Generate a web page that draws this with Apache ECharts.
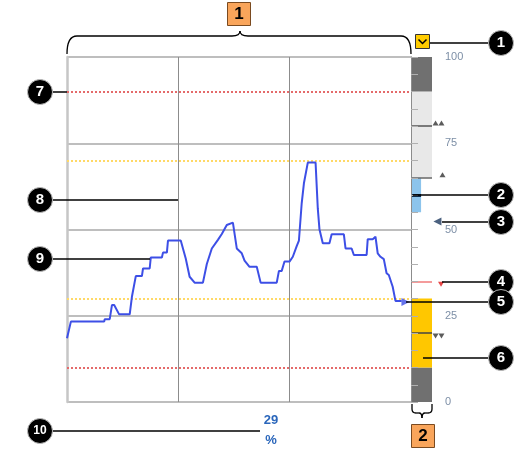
<!DOCTYPE html>
<html><head><meta charset="utf-8">
<script src="https://cdn.jsdelivr.net/npm/echarts/dist/echarts.min.js"></script>
<style>html,body{margin:0;padding:0;background:#fff}#c{width:516px;height:451px}</style>
</head><body><div id="c"></div>
<script>
// ---- data ----
const times = [0,0.7,6.7,6.8,7.7,8.1,8.5,9.4,11.3,11.7,12.4,13.5,13.7,14.9,15.1,17.1,17.3,18.0,18.2,20.5,21.4,22.1,23.0,24.5,25.2,26.1,27.2,27.9,28.8,29.9,30.6,31.5,32.0,32.9,34.2,34.9,37.8,38.2,38.7,39.2,40.1,40.7,41.4,41.8,42.3,42.7,43.0,43.4,44.8,45.2,45.5,46.1,47.3,47.7,49.9,50.2,51.3,51.7,54.0,54.2,55.1,55.6,56.0,56.5,57.1,57.6,58.0,58.7,59.2,60.3];
const values = [18.5,23.3,23.3,24,24,28.1,28.1,25.4,25.4,30.5,36.5,36.5,38.7,38.7,41.9,41.9,43.3,43.3,46.8,46.8,41.6,36.3,34.6,34.6,40,44.5,47,48.7,51.3,52,44.5,43.1,41,39.2,39.2,34.6,34.6,38,38,40.7,40.7,42.1,45.2,46.8,57.6,63.4,63.4,69.4,69.4,56.1,50.1,46,46,48.6,48.6,44.5,44.5,42.6,42.6,47.2,47.2,47.9,43.1,42.1,41.4,37.3,36.8,33.4,29.3,29.3];
const yTickLabels = [0, 25, 50, 75, 100];
const alarmLines = [90, 10];
const warnLines = [70, 30];
const gridTimes = [20, 40];
const bandLowLow = [0, 10];
const bandLow = [10, 30];
const bandHigh = [65, 90];
const bandHighHigh = [90, 100];
const setpointRange = [55, 65];
const setpoint = 60;
const limitHH = 80, limitH = 65, limitL = 35, limitLL = 20;
const targetValue = 52.3;
const currentValue = 29;
const currentText = ['29', '%'];

// ---- chart ----
const chart = echarts.init(document.getElementById('c'), null, {renderer: 'canvas'});
const lineData = times.map((t, i) => [t, values[i]]);

function callout(num, cx, cy, x1) {
  return [
    {type: 'line', z: 100, shape: {x1: x1, y1: cy, x2: cx - 11, y2: cy}, style: {stroke: '#000', lineWidth: 1.5}},
    {type: 'circle', z: 101, shape: {cx: cx, cy: cy, r: 12.5}, style: {fill: '#000', stroke: '#bbb', lineWidth: 1}},
    {type: 'text', z: 102, x: cx, y: cy, style: {text: String(num), fill: '#fff', font: 'bold ' + (num >= 10 ? 12 : 15) + 'px "Liberation Sans", Arial', align: 'center', verticalAlign: 'middle'}}
  ];
}
const bStyle = {fill: null, stroke: '#000', lineWidth: 1.3};
function seg(x1, y1, x2, y2) { return {type: 'line', z: 100, shape: {x1, y1, x2, y2}, style: bStyle}; }
function curve(x1, y1, cx, cy, x2, y2) { return {type: 'bezierCurve', z: 100, shape: {x1, y1, x2, y2, cpx1: cx, cpy1: cy}, style: bStyle}; }

const graphics = [].concat(
  callout(1, 501, 43, 429),
  callout(2, 501, 195, 413),
  callout(3, 501, 222, 442),
  callout(4, 501, 282, 442),
  callout(5, 501, 302, 406),
  callout(6, 501, 358, 423),
  callout(7, 40, 92, 67),
  callout(8, 40, 200, 178),
  callout(9, 40, 259, 150),
  callout(10, 40, 431, 260),
  [
    curve(67, 54, 67, 36, 77, 36), seg(77, 36, 232, 36), curve(232, 36, 240, 36, 240, 31),
    curve(240, 31, 240, 36, 248, 36), seg(248, 36, 401, 36), curve(401, 36, 411, 36, 411, 54),
    seg(412, 404, 412, 409), curve(412, 409, 412, 413, 416, 413), seg(416, 413, 419, 413),
    curve(419, 413, 422, 413, 422, 418), curve(422, 418, 422, 413, 425, 413), seg(425, 413, 428, 413),
    curve(428, 413, 432, 413, 432, 409), seg(432, 409, 432, 404),
    {type: 'rect', z: 100, shape: {x: 227.5, y: 2.5, width: 23, height: 23}, style: {fill: '#f9a55b', stroke: '#7a4a20', lineWidth: 1}},
    {type: 'text', z: 101, x: 239, y: 14.5, style: {text: '1', fill: '#000', font: 'bold 17px "Liberation Sans", Arial', align: 'center', verticalAlign: 'middle'}},
    {type: 'rect', z: 100, shape: {x: 411.5, y: 424.5, width: 23, height: 23}, style: {fill: '#f9a55b', stroke: '#7a4a20', lineWidth: 1}},
    {type: 'text', z: 101, x: 423, y: 436.5, style: {text: '2', fill: '#000', font: 'bold 17px "Liberation Sans", Arial', align: 'center', verticalAlign: 'middle'}},
    {type: 'rect', z: 100, shape: {x: 415.5, y: 34.5, width: 14, height: 14}, style: {fill: '#ffcc00', stroke: '#333', lineWidth: 1}},
    {type: 'polyline', z: 101, shape: {points: [[418.5, 39.5], [422.5, 43.5], [426.5, 39.5]]}, style: {fill: null, stroke: '#000', lineWidth: 1.5}},
    {type: 'text', z: 100, x: 271, y: 420, style: {text: currentText[0], fill: '#2a66bb', font: 'bold 13px "Liberation Sans", Arial', align: 'center', verticalAlign: 'middle'}},
    {type: 'text', z: 100, x: 271, y: 440, style: {text: currentText[1], fill: '#2a66bb', font: 'bold 13px "Liberation Sans", Arial', align: 'center', verticalAlign: 'middle'}}
  ]
);

const option = {
  animation: false,
  backgroundColor: '#fff',
  grid: [
    {left: 67, top: 57, width: 344, height: 345, show: false},
    {left: 411, top: 57, width: 21, height: 345, show: false}
  ],
  xAxis: [
    {gridIndex: 0, type: 'value', min: 0, max: 62, show: false},
    {gridIndex: 1, type: 'value', min: 0, max: 1, show: false}
  ],
  yAxis: [
    {gridIndex: 0, type: 'value', min: 0, max: 100, interval: 25,
     axisLine: {show: true, lineStyle: {color: '#c6c6c6', width: 2.5}},
     axisTick: {show: false}, axisLabel: {show: false},
     splitLine: {show: true, lineStyle: {color: '#a9a9a9', width: 1.5}}},
    {gridIndex: 1, type: 'value', min: 0, max: 100, interval: 5, position: 'right', z: 10,
     axisLine: {show: true, lineStyle: {color: '#8c8c8c', width: 1}},
     axisTick: {show: true, length: 7, lineStyle: {color: '#b0b0b0', width: 1}},
     axisLabel: {show: true, margin: 13, color: '#7d8fa6', fontSize: 11, fontFamily: '"Liberation Sans", Arial',
       formatter: v => yTickLabels.indexOf(v) >= 0 ? String(v) : ''},
     splitLine: {show: false}},
    {gridIndex: 1, type: 'value', min: 0, max: 100, position: 'left', z: 10,
     axisLine: {show: true, lineStyle: {color: '#8c8c8c', width: 1}},
     axisTick: {show: false}, axisLabel: {show: false}, splitLine: {show: false}}
  ],
  graphic: graphics,
  series: [
    {type: 'line', xAxisIndex: 0, yAxisIndex: 0, data: lineData, showSymbol: false, z: 5,
     lineStyle: {color: '#3d4fe6', width: 2}, itemStyle: {color: '#3d4fe6'},
     markLine: {silent: true, symbol: 'none', label: {show: false},
       data: [].concat(
         alarmLines.map(v => ({yAxis: v, lineStyle: {color: '#e46a6a', type: 'dotted', width: 2}})),
         warnLines.map(v => ({yAxis: v, lineStyle: {color: '#ffd966', type: 'dotted', width: 2}})),
         gridTimes.map(t => ({xAxis: t, lineStyle: {color: '#8c8c8c', type: 'solid', width: 1}}))
       )}},
    {type: 'scatter', xAxisIndex: 0, yAxisIndex: 0, z: 6, clip: false,
     data: [{value: [61.0, currentValue], symbol: 'triangle', symbolRotate: -90, symbolSize: [8, 8], itemStyle: {color: '#3d4fe6'}}]},
    {type: 'scatter', xAxisIndex: 1, yAxisIndex: 1, data: [], z: 3,
     markArea: {silent: true, label: {show: false},
       data: [
         [{yAxis: bandLowLow[0], itemStyle: {color: '#707070'}}, {yAxis: bandLowLow[1]}],
         [{yAxis: bandLow[0], itemStyle: {color: '#ffc700'}}, {yAxis: bandLow[1]}],
         [{yAxis: bandHigh[0], itemStyle: {color: '#e8e8e8'}}, {yAxis: bandHigh[1]}],
         [{yAxis: bandHighHigh[0], itemStyle: {color: '#707070'}}, {yAxis: bandHighHigh[1]}],
         [{coord: [0, setpointRange[0]], itemStyle: {color: '#8cc4ec'}}, {coord: [0.48, setpointRange[1]]}]
       ]},
     markLine: {silent: true, symbol: 'none', label: {show: false},
       data: [
         {yAxis: limitHH, lineStyle: {color: '#555', type: 'solid', width: 1.5}},
         {yAxis: limitH, lineStyle: {color: '#666', type: 'solid', width: 1.5}},
         {yAxis: limitL, lineStyle: {color: '#f07a7a', type: 'solid', width: 1.5}},
         {yAxis: limitLL, lineStyle: {color: '#444', type: 'solid', width: 1.5}},
         [{coord: [0, setpoint], lineStyle: {color: '#0d2b4a', type: 'solid', width: 3}}, {coord: [0.48, setpoint]}]
       ]}},
    {type: 'scatter', xAxisIndex: 1, yAxisIndex: 1, z: 8, clip: false, symbol: 'triangle',
     data: [
       {value: [1.17, limitHH], symbolSize: [6, 5], symbolOffset: [0, -3], itemStyle: {color: '#333'}},
       {value: [1.45, limitHH], symbolSize: [6, 5], symbolOffset: [0, -3], itemStyle: {color: '#333'}},
       {value: [1.5, limitH], symbolSize: [6, 5], symbolOffset: [0, -3], itemStyle: {color: '#333'}},
       {value: [1.43, limitL], symbolSize: [6, 5], symbolOffset: [0, 3], symbolRotate: 180, itemStyle: {color: '#e01818'}},
       {value: [1.17, limitLL], symbolSize: [6, 5], symbolOffset: [0, 3], symbolRotate: 180, itemStyle: {color: '#333'}},
       {value: [1.45, limitLL], symbolSize: [6, 5], symbolOffset: [0, 3], symbolRotate: 180, itemStyle: {color: '#333'}},
       {value: [1.26, targetValue], symbolSize: [8, 8], symbolRotate: 90, itemStyle: {color: '#1e3a5f'}}
     ]}
  ]
};
chart.setOption(option);
</script>
</body></html>
